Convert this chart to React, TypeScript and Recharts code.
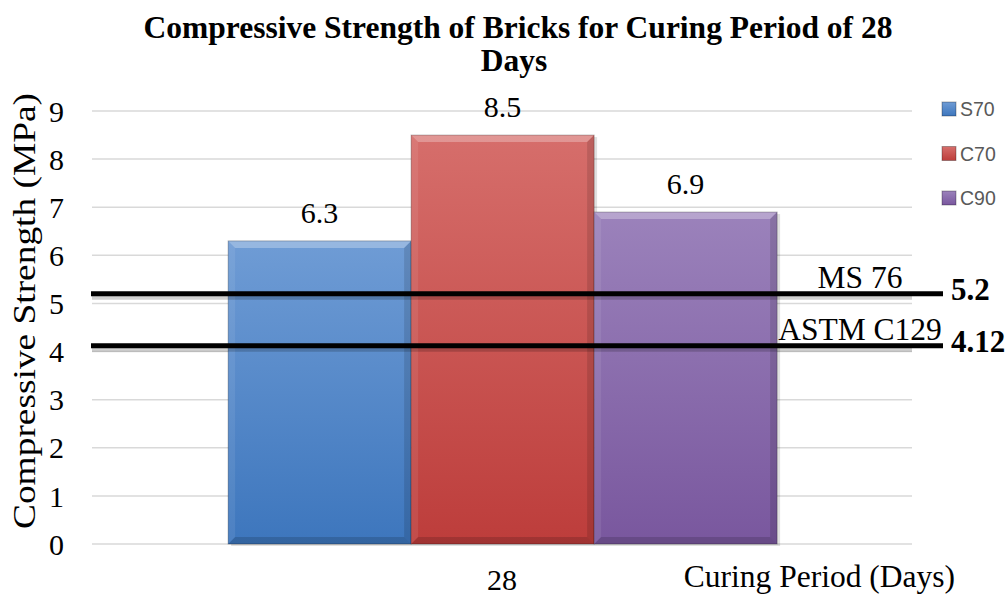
import { BarChart, Bar, XAxis, YAxis, CartesianGrid, LabelList, ReferenceLine } from "recharts";

// chart data
const categories = ["28"];
const seriesNames = ["S70", "C70", "C90"];
const s70 = [6.3];
const c70 = [8.5];
const c90 = [6.9];
const standardNames = ["MS 76", "ASTM C129"];
const standardValues = [5.2, 4.12];
const yTicks = [0, 1, 2, 3, 4, 5, 6, 7, 8, 9];

const seriesValues = [s70, c70, c90];
// gradient stops (top, bottom) per series
const barColors = [
  ["#6F9CD5", "#3D76BD"],
  ["#D66E6B", "#BD3D3B"],
  ["#9B82BB", "#79579E"],
];

const data = categories.map((c, i) => {
  const row: Record<string, string | number> = { period: c };
  seriesNames.forEach((s, j) => (row[s] = seriesValues[j][i]));
  return row;
});

const SERIF = '"Liberation Serif", "Times New Roman", serif';
const W = 1008;
const H = 595;

const BevelBar = (props: any) => {
  const { x, y, width: w, height: h, index, colorIdx } = props;
  if (!w || !h) return null;
  const b = 7;
  const id = `bar-grad-${colorIdx}-${index}`;
  const [top, bottom] = barColors[colorIdx];
  return (
    <g>
      <defs>
        <linearGradient id={id} x1="0" y1="0" x2="0" y2="1">
          <stop offset="0%" stopColor={top} />
          <stop offset="100%" stopColor={bottom} />
        </linearGradient>
      </defs>
      <rect x={x + 3} y={y + 2} width={w} height={h} fill="#000" opacity={0.12} />
      <rect x={x} y={y} width={w} height={h} fill={`url(#${id})`} />
      <polygon points={`${x},${y} ${x + w},${y} ${x + w - b},${y + b} ${x + b},${y + b}`} fill="#fff" opacity={0.28} />
      <polygon points={`${x},${y} ${x + b},${y + b} ${x + b},${y + h - b} ${x},${y + h}`} fill="#fff" opacity={0.08} />
      <polygon points={`${x + w},${y} ${x + w},${y + h} ${x + w - b},${y + h - b} ${x + w - b},${y + b}`} fill="#000" opacity={0.12} />
      <polygon points={`${x},${y + h} ${x + w},${y + h} ${x + w - b},${y + h - b} ${x + b},${y + h - b}`} fill="#000" opacity={0.15} />
      <rect x={x} y={y} width={w} height={h} fill="none" stroke="#000" strokeOpacity={0.25} />
    </g>
  );
};

// thick black standard line running past the plot edge, with its name and value
const StandardLine = (props: any) => {
  const { x1, y1, x2, name, value } = props;
  return (
    <g>
      <line x1={x1} y1={y1 + 4} x2={x2} y2={y1 + 4} stroke="#000" strokeOpacity={0.18} strokeWidth={4} />
      <line x1={x1 - 1} y1={y1} x2={x2 + 31} y2={y1} stroke="#000" strokeWidth={5} />
      <text x={x2 - 52} y={y1 - 6} textAnchor="middle" fontFamily={SERIF} fontSize={31.5} fill="#000">
        {name}
      </text>
      <text x={x2 + 39} y={y1 + 6} textAnchor="start" fontFamily={SERIF} fontSize={31} fontWeight="bold" fill="#000">
        {value}
      </text>
    </g>
  );
};

export default function App() {
  return (
    <div style={{ position: "absolute", left: 0, top: 0, width: W, height: H, background: "#fff" }}>
      <BarChart
        width={W}
        height={H}
        data={data}
        margin={{ top: 111, right: 96, bottom: 0, left: 0 }}
        barCategoryGap="16.6%"
        barGap={0}
      >
        <CartesianGrid vertical={false} stroke="#D9D9D9" strokeWidth={1.5} />
        <XAxis
          dataKey="period"
          height={51}
          axisLine={false}
          tickLine={false}
          tickMargin={19}
          tick={{ fontFamily: SERIF, fontSize: 30, fill: "#000" }}
        />
        <YAxis
          width={92}
          domain={[0, 9]}
          ticks={yTicks}
          interval={0}
          axisLine={false}
          tickLine={false}
          tickMargin={22}
          tick={{ fontFamily: SERIF, fontSize: 30, fill: "#000" }}
        />
        {seriesNames.map((s, j) => (
          <Bar
            key={s}
            dataKey={s}
            isAnimationActive={false}
            fill={barColors[j][0]}
            shape={(p: any) => <BevelBar {...p} colorIdx={j} />}
          >
            <LabelList dataKey={s} position="top" offset={18} fontFamily={SERIF} fontSize={30} fill="#000" />
          </Bar>
        ))}
        {standardValues.map((v, i) => (
          <ReferenceLine
            key={standardNames[i]}
            y={v}
            shape={(p: any) => <StandardLine {...p} name={standardNames[i]} value={v} />}
          />
        ))}
      </BarChart>

      <svg width={W} height={H} style={{ position: "absolute", left: 0, top: 0, pointerEvents: "none" }}>
        <text x={518} y={38} textAnchor="middle" fontFamily={SERIF} fontSize={31.5} fontWeight="bold">
          Compressive Strength of Bricks for Curing Period of 28
        </text>
        <text x={514} y={71} textAnchor="middle" fontFamily={SERIF} fontSize={31.5} fontWeight="bold">
          Days
        </text>
        <text
          x={0}
          y={0}
          transform="translate(24 311) rotate(-90)"
          textAnchor="middle"
          dominantBaseline="central"
          fontFamily={SERIF}
          fontSize={32}
          textLength={436}
          lengthAdjust="spacingAndGlyphs"
        >
          Compressive Strength (MPa)
        </text>
        <text x={955} y={587} textAnchor="end" fontFamily={SERIF} fontSize={31.5}>
          Curing Period (Days)
        </text>
        <defs>
          {barColors.map((c, j) => (
            <linearGradient key={j} id={`legend-grad-${j}`} x1="0" y1="0" x2="0" y2="1">
              <stop offset="0%" stopColor={c[0]} />
              <stop offset="100%" stopColor={c[1]} />
            </linearGradient>
          ))}
        </defs>
        {seriesNames.map((s, j) => {
          const cy = 109 + j * 44.5;
          return (
            <g key={s}>
              <rect x={942} y={cy - 7} width={14} height={14} fill={`url(#legend-grad-${j})`} stroke="#000" strokeOpacity={0.3} />
              <text x={960} y={cy} dominantBaseline="central" fontFamily='"Liberation Sans", Arial, sans-serif' fontSize={19.5} fill="#595959">
                {s}
              </text>
            </g>
          );
        })}
      </svg>
    </div>
  );
}
